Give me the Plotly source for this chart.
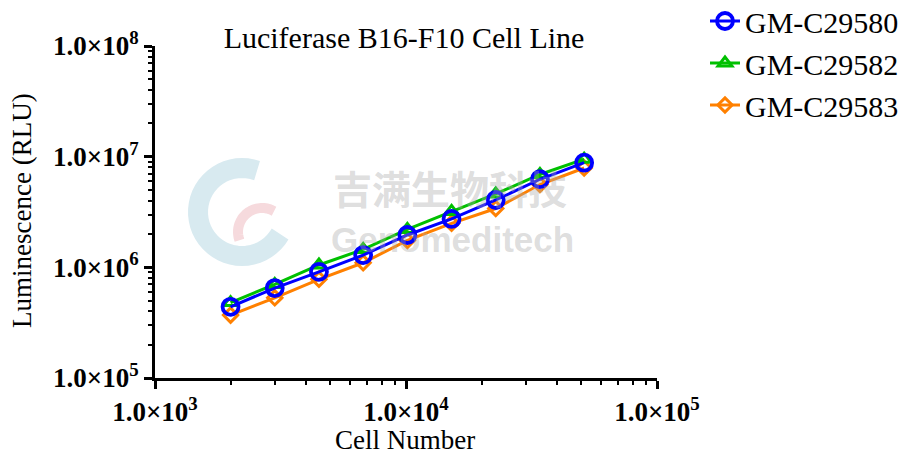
import numpy as np
import plotly.graph_objects as go

cells = [2000, 3000, 4500, 6750, 10125, 15188, 22781, 34172, 51258]
gm_c29580 = [4.4e5, 6.5e5, 9.1e5, 1.29e6, 1.96e6, 2.74e6, 4.06e6, 6.25e6, 8.83e6]
gm_c29582 = [4.8e5, 7.0e5, 1.05e6, 1.45e6, 2.2e6, 3.2e6, 4.6e6, 6.9e6, 9.5e6]
gm_c29583 = [3.7e5, 5.3e5, 7.8e5, 1.1e6, 1.75e6, 2.5e6, 3.4e6, 5.6e6, 7.9e6]

x_ticks = [1e3, 1e4, 1e5]
x_ticklabels = ["<b>1.0×10<sup>3</sup></b>", "<b>1.0×10<sup>4</sup></b>", "<b>1.0×10<sup>5</sup></b>"]
y_ticks = [1e5, 1e6, 1e7, 1e8]
y_ticklabels = ["<b>1.0×10<sup>5</sup></b>", "<b>1.0×10<sup>6</sup></b>",
                "<b>1.0×10<sup>7</sup></b>", "<b>1.0×10<sup>8</sup></b>"]
x_minor = [k * 10 ** e for e in (3, 4) for k in range(2, 10)]
y_minor = [k * 10 ** e for e in (5, 6, 7) for k in range(2, 10)]

FONT = "Liberation Serif"
W, H = 911, 454
L, R, T, B = 155, 657, 46, 378


def px(xp):
    return (xp - L) / (R - L)


def py(yp):
    return (B - yp) / (B - T)


fig = go.Figure()

# faint logo watermark (decoration)
def arc_path(cx, cy, r, a0, a1, n=40):
    pts = []
    for a in np.linspace(np.radians(a0), np.radians(a1), n):
        pts.append((px(cx + r * np.cos(a)), py(cy - r * np.sin(a))))
    return "M " + " L ".join(f"{x:.4f},{y:.4f}" for x, y in pts)


fig.add_shape(type="path", xref="paper", yref="paper", layer="below",
              path=arc_path(242, 212, 44, 70, 330),
              line=dict(color="#d8eaf0", width=20))
fig.add_shape(type="path", xref="paper", yref="paper", layer="below",
              path=arc_path(262, 232, 24, 200, 60),
              line=dict(color="#f6dadd", width=10))

series = [
    ("GM-C29583", gm_c29583, "#ff8000", "diamond-open", 11, 3),
    ("GM-C29582", gm_c29582, "#00c000", "triangle-up-open", 12, 3),
    ("GM-C29580", gm_c29580, "#0000ff", "circle-open", 16, 3.8),
]
for name, vals, color, sym, size, lw in series:
    fig.add_trace(go.Scatter(
        x=cells, y=vals, name=name, mode="lines+markers",
        line=dict(color=color, width=3),
        marker=dict(symbol=sym, size=size, color=color, line=dict(width=lw, color=color)),
        legendrank={"GM-C29580": 1, "GM-C29582": 2, "GM-C29583": 3}[name],
    ))

axis_common = dict(
    type="log", showgrid=False, zeroline=False, automargin=False,
    showline=True, linecolor="black", linewidth=3,
    ticks="outside", ticklen=8, tickwidth=3, tickcolor="black",
    tickfont=dict(family=FONT, size=27, color="black"),
)

fig.update_layout(
    width=W, height=H,
    margin=dict(l=L, r=W - R, t=T, b=H - B, autoexpand=False),
    paper_bgcolor="white", plot_bgcolor="white",
    title=dict(text="Luciferase B16-F10 Cell Line", x=404 / W, xanchor="center",
               y=1 - 37 / H, yanchor="middle", automargin=False,
               font=dict(family=FONT, size=30, color="black")),
    xaxis=dict(axis_common, range=[3, 5], tickvals=x_ticks, ticktext=x_ticklabels,
               minor=dict(tickvals=x_minor, ticks="outside", ticklen=4, tickwidth=2,
                          tickcolor="black", showgrid=False)),
    yaxis=dict(axis_common, range=[5, 8], tickvals=y_ticks, ticktext=y_ticklabels,
               minor=dict(tickvals=y_minor, ticks="outside", ticklen=4, tickwidth=2,
                          tickcolor="black", showgrid=False)),
    legend=dict(x=px(705), y=py(-5), xanchor="left", yanchor="top",
                font=dict(family=FONT, size=30, color="black"),
                bgcolor="rgba(0,0,0,0)", tracegroupgap=0),
    showlegend=True,
)

# axis titles
fig.add_annotation(text="Cell Number", xref="paper", yref="paper",
                   x=px(405), y=py(440), showarrow=False,
                   xanchor="center", yanchor="middle",
                   font=dict(family=FONT, size=27, color="black"))
fig.add_annotation(text="Luminescence (RLU)", xref="paper", yref="paper",
                   x=px(22), y=py(211), showarrow=False,
                   xanchor="center", yanchor="middle", textangle=-90,
                   font=dict(family=FONT, size=27, color="black"))

# watermark text
fig.add_annotation(text="<b>吉满生物科技</b>", xref="paper", yref="paper",
                   x=px(450), y=py(187), showarrow=False,
                   font=dict(family="Noto Sans CJK SC", size=39, color="rgba(170,170,170,0.4)"))
fig.add_annotation(text="<b>Genomeditech</b>", xref="paper", yref="paper",
                   x=px(452), y=py(240), showarrow=False,
                   font=dict(family="Liberation Sans", size=35, color="rgba(170,170,170,0.4)"))

fig.write_html("out.html", config={"displayModeBar": False},
               post_script="document.body.style.margin='0';")
